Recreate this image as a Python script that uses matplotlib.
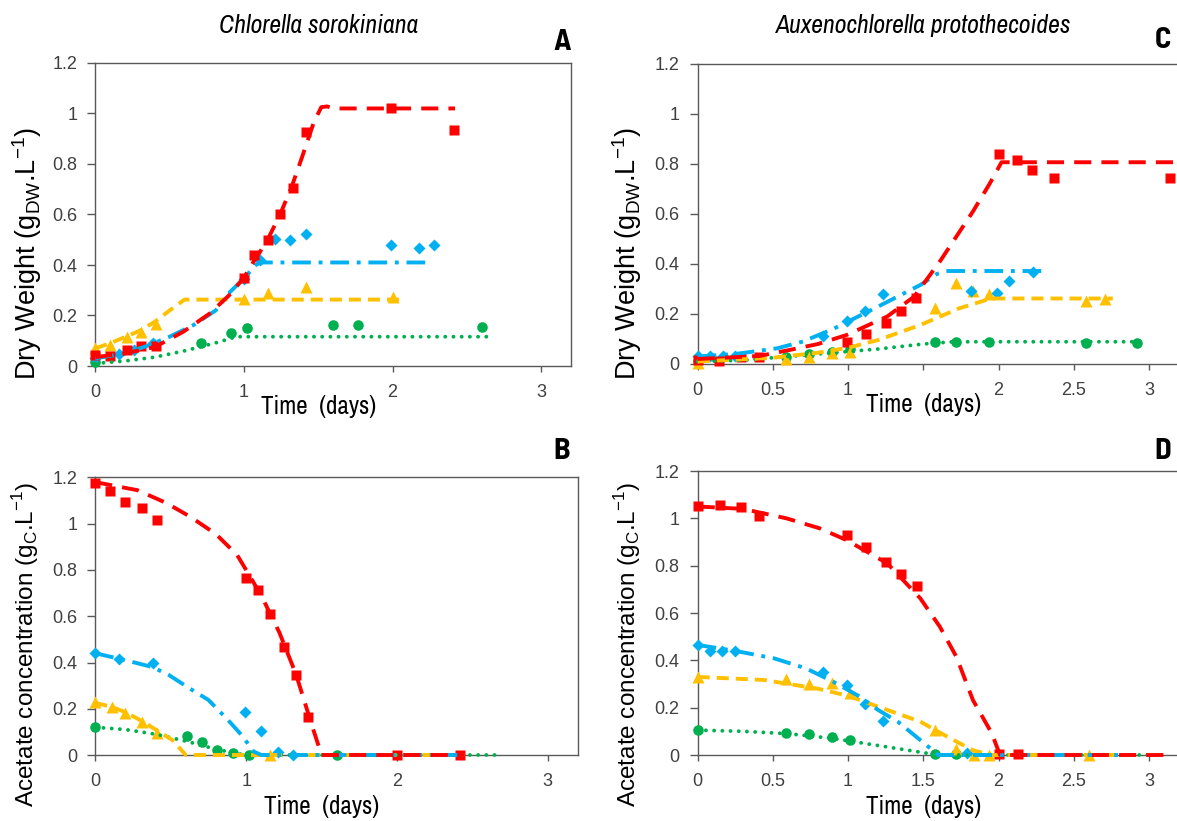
import matplotlib
matplotlib.use("Agg")
import matplotlib.pyplot as plt
from matplotlib import font_manager as fm
from matplotlib.ticker import FixedLocator, FuncFormatter

names = {f.name for f in fm.fontManager.ttflist}
NARROW = "Archivo Narrow" if "Archivo Narrow" in names else "Liberation Sans"
REG = "Liberation Sans"

def _w(f):
    w = f.weight
    if isinstance(w, str):
        w = fm.weight_dict.get(w, 400)
    return w

_pref = ["Archivo Narrow", "Barlow Semi Condensed", "Encode Sans Condensed", "Asap Condensed",
         "Cabin Condensed", "Barlow Condensed"]
BOLDNARROW = None
for n in _pref:
    if any(f.name == n and _w(f) >= 650 and f.style == "normal" for f in fm.fontManager.ttflist):
        BOLDNARROW = n
        break
if BOLDNARROW is None:
    BOLDNARROW = REG

RED, BLUE, YEL, GRN = "#FF0000", "#00B0F0", "#FFC000", "#00B050"

# ---------------- Panel A : C. sorokiniana dry weight ----------------
A_red_t = [0, 0.10, 0.21, 0.31, 0.41, 1.00, 1.07, 1.16, 1.24, 1.33, 1.42, 1.99, 2.41]
A_red_y = [0.043, 0.039, 0.063, 0.08, 0.08, 0.35, 0.44, 0.50, 0.60, 0.705, 0.925, 1.02, 0.935]
A_blue_t = [0, 0.16, 0.26, 0.39, 1.00, 1.11, 1.21, 1.31, 1.42, 1.99, 2.18, 2.28]
A_blue_y = [0.03, 0.047, 0.063, 0.09, 0.346, 0.42, 0.504, 0.50, 0.524, 0.48, 0.467, 0.48]
A_yel_t = [0, 0.10, 0.21, 0.31, 0.41, 1.00, 1.16, 1.42, 2.00]
A_yel_y = [0.072, 0.083, 0.113, 0.135, 0.168, 0.267, 0.29, 0.313, 0.274]
A_grn_t = [0, 0.71, 0.91, 1.02, 1.60, 1.77, 2.60]
A_grn_y = [0.017, 0.09, 0.13, 0.149, 0.162, 0.162, 0.155]
# model curves
A_red_ft = [0, 0.2, 0.4, 0.59, 0.77, 0.9, 1.0, 1.07, 1.15, 1.24, 1.32, 1.39, 1.47, 1.52, 1.56, 1.6, 2.42]
A_red_fy = [0.035, 0.05, 0.075, 0.135, 0.208, 0.28, 0.35, 0.418, 0.49, 0.596, 0.708, 0.826, 0.965, 1.025, 1.028, 1.02, 1.02]
A_blue_ft = [0, 0.2, 0.35, 0.5, 0.66, 0.81, 0.906, 1.0, 1.08, 1.11, 2.24]
A_blue_fy = [0.03, 0.05, 0.08, 0.116, 0.162, 0.22, 0.293, 0.347, 0.40, 0.41, 0.41]
A_yel_ft = [0, 0.1, 0.2, 0.3, 0.4, 0.5, 0.6, 2.06]
A_yel_fy = [0.07, 0.09, 0.115, 0.14, 0.175, 0.22, 0.263, 0.263]
A_grn_ft = [0, 0.2, 0.4, 0.6, 0.8, 0.95, 2.67]
A_grn_fy = [0.01, 0.02, 0.035, 0.06, 0.09, 0.116, 0.116]

# ---------------- Panel B : C. sorokiniana acetate ----------------
B_red_t = [0, 0.10, 0.20, 0.31, 0.41, 1.00, 1.08, 1.16, 1.25, 1.33, 1.41, 2.00, 2.42]
B_red_y = [1.177, 1.142, 1.095, 1.07, 1.016, 0.766, 0.713, 0.609, 0.465, 0.346, 0.166, 0.0, 0.0]
B_blue_t = [0, 0.16, 0.38, 0.99, 1.10, 1.21, 1.31]
B_blue_y = [0.442, 0.413, 0.396, 0.184, 0.105, 0.015, 0.0]
B_yel_t = [0, 0.11, 0.20, 0.31, 0.41, 1.16]
B_yel_y = [0.228, 0.209, 0.183, 0.144, 0.096, 0.0]
B_grn_t = [0, 0.61, 0.71, 0.81, 0.91, 1.02, 1.60]
B_grn_y = [0.122, 0.082, 0.057, 0.022, 0.01, 0.0, 0.0]
B_red_ft = [0, 0.28, 0.47, 0.63, 0.8, 0.94, 1.0, 1.1, 1.22, 1.33, 1.44, 1.5, 2.45]
B_red_fy = [1.18, 1.145, 1.09, 1.03, 0.955, 0.865, 0.80, 0.69, 0.53, 0.35, 0.12, 0.0, 0.0]
B_blue_ft = [0, 0.2, 0.38, 0.49, 0.62, 0.75, 0.88, 0.97, 1.05, 1.1, 2.4]
B_blue_fy = [0.44, 0.41, 0.38, 0.345, 0.29, 0.238, 0.151, 0.086, 0.015, 0.0, 0.0]
B_yel_ft = [0, 0.1, 0.2, 0.3, 0.4, 0.51, 0.6, 2.45]
B_yel_fy = [0.225, 0.21, 0.185, 0.15, 0.11, 0.065, 0.0, 0.0]
B_grn_ft = [0, 0.2, 0.4, 0.6, 0.8, 0.95, 1.0, 2.67]
B_grn_fy = [0.12, 0.11, 0.09, 0.06, 0.025, 0.005, 0.0, 0.0]

# ---------------- Panel C : A. protothecoides dry weight ----------------
C_red_t = [0, 0.14, 0.29, 0.41, 0.99, 1.12, 1.25, 1.35, 1.45, 2.00, 2.12, 2.22, 2.37, 3.14]
C_red_y = [0.016, 0.013, 0.027, 0.027, 0.088, 0.12, 0.165, 0.213, 0.263, 0.84, 0.816, 0.776, 0.743, 0.743]
C_blue_t = [0, 0.08, 0.17, 0.25, 0.83, 0.99, 1.11, 1.23, 1.82, 1.99, 2.07, 2.23]
C_blue_y = [0.03, 0.03, 0.032, 0.032, 0.112, 0.17, 0.212, 0.28, 0.29, 0.285, 0.333, 0.367]
C_yel_t = [0, 0.59, 0.74, 0.89, 1.01, 1.58, 1.72, 1.83, 1.94, 2.58, 2.71]
C_yel_y = [0.003, 0.019, 0.029, 0.043, 0.049, 0.223, 0.323, 0.293, 0.279, 0.252, 0.259]
C_grn_t = [0, 0.59, 0.74, 0.89, 1.01, 1.58, 1.72, 1.94, 2.58, 2.92]
C_grn_y = [0.013, 0.027, 0.04, 0.049, 0.06, 0.089, 0.089, 0.089, 0.085, 0.085]
C_red_ft = [0, 0.41, 0.61, 0.8, 0.99, 1.26, 1.44, 1.61, 1.83, 1.94, 2.02, 3.2]
C_red_fy = [0.02, 0.032, 0.056, 0.08, 0.116, 0.19, 0.27, 0.41, 0.61, 0.72, 0.807, 0.807]
C_blue_ft = [0, 0.25, 0.53, 0.7, 0.9, 1.2, 1.48, 1.59, 1.65, 2.3]
C_blue_fy = [0.03, 0.04, 0.063, 0.09, 0.14, 0.23, 0.316, 0.36, 0.372, 0.372]
C_yel_ft = [0, 0.5, 0.8, 1.0, 1.2, 1.48, 1.74, 1.95, 2.76]
C_yel_fy = [0.01, 0.025, 0.045, 0.065, 0.096, 0.156, 0.223, 0.262, 0.262]
C_grn_ft = [0, 0.3, 0.6, 0.9, 1.2, 1.5, 1.7, 2.99]
C_grn_fy = [0.01, 0.015, 0.03, 0.045, 0.06, 0.08, 0.089, 0.089]

# ---------------- Panel D : A. protothecoides acetate ----------------
D_red_t = [0, 0.15, 0.29, 0.41, 0.99, 1.12, 1.25, 1.35, 1.46, 2.00, 2.13]
D_red_y = [1.052, 1.056, 1.046, 1.01, 0.929, 0.877, 0.814, 0.765, 0.715, 0.003, 0.003]
D_blue_t = [0, 0.08, 0.16, 0.25, 0.83, 0.99, 1.11, 1.23, 1.79]
D_blue_y = [0.465, 0.441, 0.441, 0.44, 0.352, 0.296, 0.214, 0.144, 0.007]
D_yel_t = [0, 0.59, 0.74, 0.89, 1.01, 1.58, 1.72, 1.84, 1.94, 2.60]
D_yel_y = [0.331, 0.32, 0.30, 0.303, 0.261, 0.106, 0.024, 0.0, 0.0, 0.0]
D_grn_t = [0, 0.59, 0.74, 0.89, 1.01, 1.58, 1.72]
D_grn_y = [0.106, 0.092, 0.087, 0.077, 0.063, 0.003, 0.003]
D_red_ft = [0, 0.3, 0.59, 0.81, 0.99, 1.26, 1.48, 1.61, 1.72, 1.83, 1.955, 2.01, 3.12]
D_red_fy = [1.05, 1.04, 1.0, 0.958, 0.908, 0.81, 0.662, 0.542, 0.415, 0.232, 0.092, 0.0, 0.0]
D_blue_ft = [0, 0.25, 0.51, 0.72, 0.9, 1.08, 1.2, 1.33, 1.48, 1.6, 2.9]
D_blue_fy = [0.465, 0.44, 0.408, 0.366, 0.31, 0.246, 0.19, 0.141, 0.063, 0.0, 0.0]
D_yel_ft = [0, 0.44, 0.8, 1.0, 1.2, 1.48, 1.66, 1.83, 1.95, 2.9]
D_yel_fy = [0.33, 0.317, 0.28, 0.25, 0.204, 0.141, 0.077, 0.02, 0.0, 0.0]
D_grn_ft = [0, 0.3, 0.6, 0.9, 1.2, 1.5, 1.6, 2.99]
D_grn_fy = [0.105, 0.1, 0.09, 0.07, 0.04, 0.01, 0.0, 0.0]

yticks = [0, 0.2, 0.4, 0.6, 0.8, 1.0, 1.2]
xticks_AB = [0, 1, 2, 3]
xticks_CD = [0, 0.5, 1, 1.5, 2, 2.5, 3]
xticklabels_CD = ["0", "0.5", "1", "", "2", "2.5", "3"]   # 1.5 hidden behind the axis title
title_left = "Chlorella sorokiniana"
title_right = "Auxenochlorella protothecoides"
ylab_dw = r"Dry Weight (g$_{\mathregular{DW}}$.L$^{\mathregular{-1}}$)"
ylab_ac = r"Acetate concentration (g$_{\mathregular{C}}$.L$^{\mathregular{-1}}$)"
xlab = "Time  (days)"

W, H = 1177, 821
fig = plt.figure(figsize=(W / 100, H / 100), dpi=100)

def px_axes(l, t, r, b):
    return fig.add_axes([l / W, 1 - b / H, (r - l) / W, (b - t) / H])

axA = px_axes(95.3, 63, 571, 366)
axC = px_axes(697.7, 64, 697.7 + 3.2 * 150.4, 364)
axB = px_axes(95.3, 477.5, 578, 755)
axD = px_axes(697.7, 471, 697.7 + 3.2 * 150.4, 755)

MK = dict(ls="none", mec="none", clip_on=False)
LW = 2.8
sty = {
    "red": dict(color=RED, lw=LW, dashes=(4.4, 2.6), dash_capstyle="butt"),
    "blue": dict(color=BLUE, lw=LW, dashes=(4.8, 2.0, 1.0, 2.0), dash_capstyle="butt"),
    "yel": dict(color=YEL, lw=LW, dashes=(3.1, 1.8), dash_capstyle="butt"),
    "grn": dict(color=GRN, lw=LW, dashes=(0.01, 2.1), dash_capstyle="round"),
}

def draw(ax, pts, fits):
    (gt, gy), (yt, yy), (bt, by), (rt, ry) = pts
    ax.plot(gt, gy, marker="o", ms=7.6, color=GRN, **MK, zorder=3)
    ax.plot(yt, yy, marker="^", ms=8.6, color=YEL, **MK, zorder=3)
    ax.plot(bt, by, marker="D", ms=6.0, color=BLUE, **MK, zorder=3)
    ax.plot(rt, ry, marker="s", ms=7.2, color=RED, **MK, zorder=3)
    (gft, gfy), (yft, yfy), (bft, bfy), (rft, rfy) = fits
    ax.plot(gft, gfy, **sty["grn"], zorder=4, clip_on=False)
    ax.plot(yft, yfy, **sty["yel"], zorder=4, clip_on=False)
    ax.plot(bft, bfy, **sty["blue"], zorder=4, clip_on=False)
    ax.plot(rft, rfy, **sty["red"], zorder=4, clip_on=False)

draw(axA, [(A_grn_t, A_grn_y), (A_yel_t, A_yel_y), (A_blue_t, A_blue_y), (A_red_t, A_red_y)],
     [(A_grn_ft, A_grn_fy), (A_yel_ft, A_yel_fy), (A_blue_ft, A_blue_fy), (A_red_ft, A_red_fy)])
draw(axB, [(B_grn_t, B_grn_y), (B_yel_t, B_yel_y), (B_blue_t, B_blue_y), (B_red_t, B_red_y)],
     [(B_grn_ft, B_grn_fy), (B_yel_ft, B_yel_fy), (B_blue_ft, B_blue_fy), (B_red_ft, B_red_fy)])
draw(axC, [(C_grn_t, C_grn_y), (C_yel_t, C_yel_y), (C_blue_t, C_blue_y), (C_red_t, C_red_y)],
     [(C_grn_ft, C_grn_fy), (C_yel_ft, C_yel_fy), (C_blue_ft, C_blue_fy), (C_red_ft, C_red_fy)])
draw(axD, [(D_grn_t, D_grn_y), (D_yel_t, D_yel_y), (D_blue_t, D_blue_y), (D_red_t, D_red_y)],
     [(D_grn_ft, D_grn_fy), (D_yel_ft, D_yel_fy), (D_blue_ft, D_blue_fy), (D_red_ft, D_red_fy)])

fmt = FuncFormatter(lambda v, p: "%g" % round(v, 2))
for ax, xt in ((axA, xticks_AB), (axB, xticks_AB), (axC, xticks_CD), (axD, xticks_CD)):
    ax.set_xlim(0, 3.2)
    ax.set_ylim(0, 1.2)
    ax.xaxis.set_major_locator(FixedLocator(xt))
    ax.yaxis.set_major_locator(FixedLocator(yticks))
    ax.xaxis.set_major_formatter(fmt)
    ax.yaxis.set_major_formatter(fmt)
    for s in ax.spines.values():
        s.set_color("#595959")
        s.set_linewidth(1.0)
        s.set_zorder(2)
    ax.tick_params(axis="y", direction="out", length=6, width=1, color="#595959", pad=7,
                   labelsize=13, labelcolor="#404040")
    ax.tick_params(axis="x", direction="out", length=4, width=1, color="#595959", pad=9,
                   labelsize=13, labelcolor="#404040")
axC.set_xticks(xticks_CD, xticklabels_CD)
for ax in (axA, axB, axC, axD):
    for lab in ax.get_xticklabels() + ax.get_yticklabels():
        lab.set_family(REG)

def labels(ax, ylab, ysize, ylab_xy, xlab_y, letter, letter_xy, title=None, title_y=None):
    ax.set_ylabel(ylab, fontsize=ysize, family=REG, color="black")
    ax.yaxis.set_label_coords(*ylab_xy)
    ax.yaxis.label.set_va("center")
    ax.set_xlabel(xlab, fontsize=18, family=NARROW, color="black")
    ax.xaxis.set_label_coords(1.5 / 3.2, xlab_y)
    ax.xaxis.label.set_va("center")
    ax.text(*letter_xy, letter, transform=ax.transAxes,
            fontsize=(22 if BOLDNARROW != REG else 20), fontweight="bold",
            family=BOLDNARROW, ha="center", va="center")
    if title:
        ax.text(1.5 / 3.2, title_y, title, transform=ax.transAxes, fontsize=18.5,
                style="italic", family=NARROW, ha="center", va="center")

labels(axA, ylab_dw, 19.5, (-0.143, 0.37), -0.135, "A", (0.981, 1.069), title_left, 1.125)
labels(axC, ylab_dw, 19.5, (-0.146, 0.37), -0.135, "C", (0.967, 1.08), title_right, 1.13)
labels(axB, ylab_ac, 17.5, (-0.145, 0.40), -0.184, "B", (0.966, 1.093))
labels(axD, ylab_ac, 17.5, (-0.146, 0.39), -0.180, "D", (0.967, 1.067))

fig.savefig("out.png", dpi=100, facecolor="white")
